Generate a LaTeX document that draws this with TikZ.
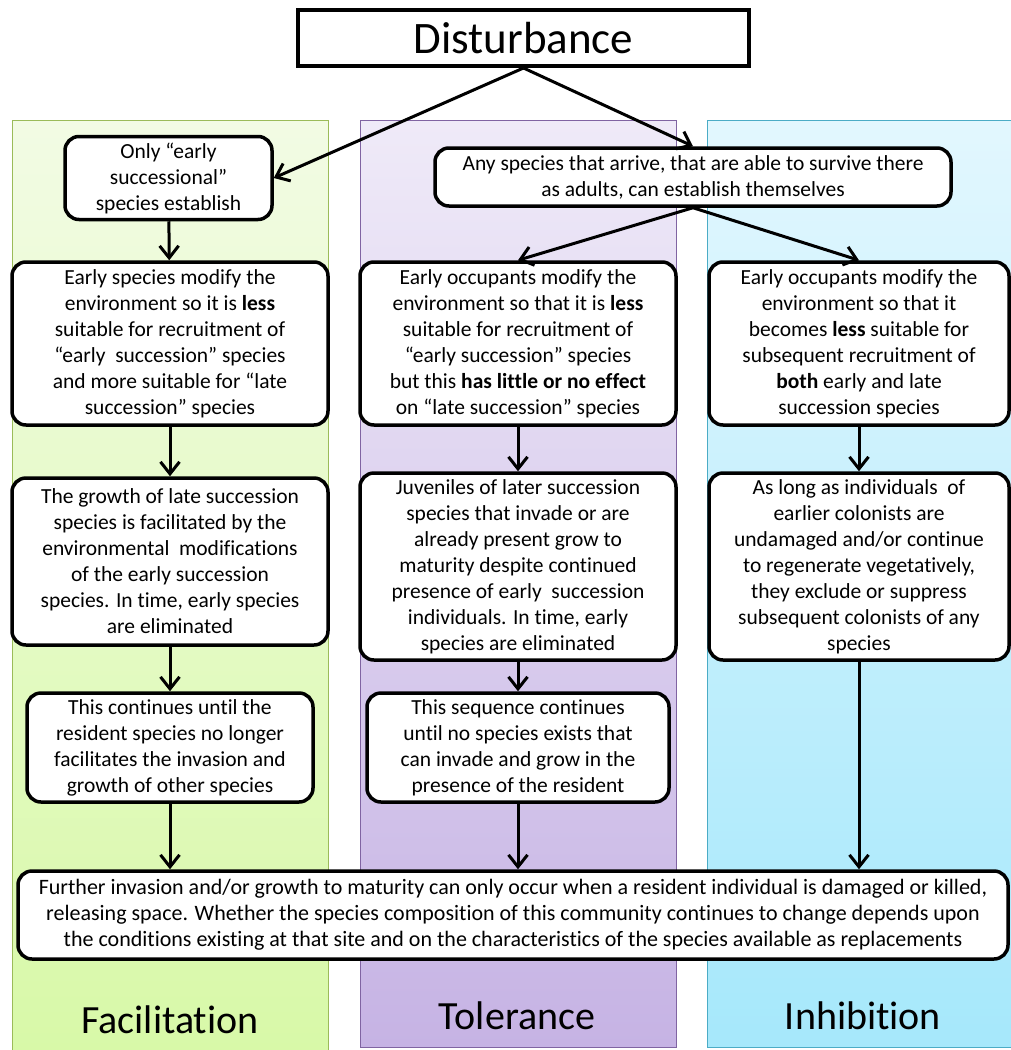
\documentclass[tikz,border=0pt]{standalone}
\usepackage{fontspec}
\setmainfont{Carlito}[Ligatures={TeX,NoCommon}]
\usetikzlibrary{arrows.meta}
\definecolor{facline}{HTML}{9BBB59}
\definecolor{factop}{HTML}{F2FBE4}
\definecolor{facbot}{HTML}{D8F9A8}
\definecolor{tolline}{HTML}{8064A2}
\definecolor{toltop}{HTML}{EFEAF8}
\definecolor{tolbot}{HTML}{C6B3E4}
\definecolor{inhline}{HTML}{4BACC6}
\definecolor{inhtop}{HTML}{E2F7FE}
\definecolor{inhbot}{HTML}{A6E8FB}
\begin{document}
\begin{tikzpicture}[x=1pt,y=-1pt,
box/.style={draw,line width=3.5pt,rounded corners=14pt,fill=white,align=center,inner sep=0pt,
  font=\fontsize{21.5}{26}\selectfont},
arr/.style={-{Straight Barb[length=12pt,width=19pt]},line width=3pt},
col/.style={line width=0.8pt},
colname/.style={font=\fontsize{40}{48}\selectfont}]
\useasboundingbox(0,0)rectangle(1011,1050);
% columns
\draw[col,draw=facline,top color=factop,bottom color=facbot](12,120)rectangle(328,1050);
\draw[col,draw=tolline,top color=toltop,bottom color=tolbot](360,120)rectangle(676,1047);
\draw[col,draw=inhline,top color=inhtop,bottom color=inhbot](707,120)rectangle(1013,1047);
\node[colname](fac)at(170,1020){Facilitation};
\node[colname](tol)at(517,1016){Tolerance};
\node[colname](inh)at(863,1016){Inhibition};
% boxes
\node[draw,line width=4pt,fill=white,minimum width=451,minimum height=56,inner sep=0pt,
  font=\fontsize{45}{54}\selectfont](dist)at(523.5,38){Disturbance};
\node[box,minimum width=207,minimum height=83](early)at(168.5,178)
  {Only “early\\successional”\\species establish};
\node[box,minimum width=516,minimum height=58](any)at(693,177)
  {Any species that arrive, that are able to survive there\\as adults, can establish themselves};
\node[box,minimum width=316,minimum height=163](f1)at(170,343.5)
  {Early species modify the\\environment so it is \textbf{less}\\suitable for recruitment of\\“early\ \ succession” species\\and more suitable for “late\\succession” species};
\node[box,minimum width=316,minimum height=163](t1)at(518,343.5)
  {Early occupants modify the\\environment so that it is \textbf{less}\\suitable for recruitment of\\“early succession” species\\but this \textbf{has little or no effect}\\on “late succession” species};
\node[box,minimum width=300,minimum height=163](i1)at(859,343.5)
  {Early occupants modify the\\environment so that it\\becomes \textbf{less} suitable for\\subsequent recruitment of\\\textbf{both} early and late\\succession species};
\node[box,minimum width=316,minimum height=167](f2)at(170,561.5)
  {The growth of late succession\\species is facilitated by the\\environmental\ \ modifications\\of the early succession\\species. In time, early species\\are eliminated};
\node[box,minimum width=316,minimum height=187](t2)at(518,566.5)
  {Juveniles of later succession\\species that invade or are\\already present grow to\\maturity despite continued\\presence of early\ \ succession\\individuals. In time, early\\species are eliminated};
\node[box,minimum width=300,minimum height=187](i2)at(859,566.5)
  {As long as individuals\ \ of\\earlier colonists are\\undamaged and/or continue\\to regenerate vegetatively,\\they exclude or suppress\\subsequent colonists of any\\species};
\node[box,minimum width=286,minimum height=109](f3)at(170,747.5)
  {This continues until the\\resident species no longer\\facilitates the invasion and\\growth of other species};
\node[box,minimum width=302,minimum height=109](t3)at(518,747.5)
  {This sequence continues\\until no species exists that\\can invade and grow in the\\presence of the resident};
\node[box,minimum width=990,minimum height=88,font=\fontsize{22}{26}\selectfont](bot)at(513,915)
  {Further invasion and/or growth to maturity can only occur when a resident individual is damaged or killed,\\releasing space. Whether the species composition of this community continues to change depends upon\\the conditions existing at that site and on the characteristics of the species available as replacements};
% arrows
\draw[arr](dist.south)--(early.east);
\draw[arr](dist.south)--(any.north);
\draw[arr](any.south)--(t1.north);
\draw[arr](any.south)--(i1.north);
\draw[arr](early)--(f1);
\draw[arr](f1)--(f2);
\draw[arr](f2)--(f3);
\draw[arr](f3)--(f3|-bot.north);
\draw[arr](t1)--(t2);
\draw[arr](t2)--(t3);
\draw[arr](t3)--(t3|-bot.north);
\draw[arr](i1)--(i2);
\draw[arr](i2)--(i2|-bot.north);
\end{tikzpicture}
\end{document}
